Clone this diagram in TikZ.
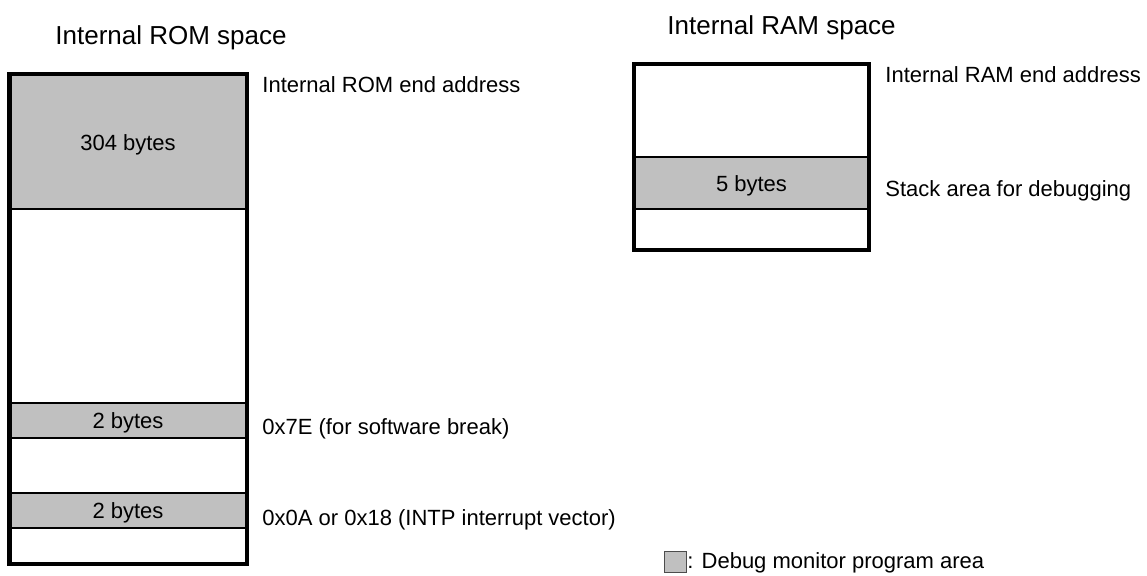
\documentclass[tikz,border=0pt]{standalone}
\usepackage{fontspec}
\setmainfont{Liberation Sans}
\usetikzlibrary{positioning}
\definecolor{MonGrey}{RGB}{192,192,192}

\begin{document}
\begin{tikzpicture}[x=0.5pt, y=-0.5pt, font=\fontsize{11}{13}\selectfont,
  every node/.style={inner sep=0pt},
  title/.style={anchor=base west, font=\fontsize{13}{15}\selectfont},
  note/.style={anchor=base west},
  size/.style={anchor=base},
  frame/.style={line width=2.2pt},
  split/.style={line width=0.6pt}]
  \useasboundingbox (0,0) rectangle (1147,576);

  % ROM side
  \node[title] (romtitle) at (55,45) {Internal ROM space};
  \fill[MonGrey] (9.5,74) rectangle (247,209);
  \fill[MonGrey] (9.5,403) rectangle (247,438);
  \fill[MonGrey] (9.5,493) rectangle (247,528);
  \foreach \y in {209,403,438,493,528}
    \draw[split] (9.5,\y) -- (247,\y);
  \draw[frame] (9.5,74) rectangle (247,564);
  \node[size] (rommon) at (128,151) {304 bytes};
  \node[size] (rombrk) at (128,429) {2 bytes};
  \node[size] (romvec) at (128,519) {2 bytes};
  \node[note] (romend) at (262,93) {Internal ROM end address};
  \node[note] (brknote) at (262,435) {0x7E (for software break)};
  \node[note] (vecnote) at (262,526) {0x0A or 0x18 (INTP interrupt vector)};

  % RAM side
  \node[title] (ramtitle) at (667,35) {Internal RAM space};
  \fill[MonGrey] (634,157) rectangle (869,209);
  \foreach \y in {157,209}
    \draw[split] (634,\y) -- (869,\y);
  \draw[frame] (634,64) rectangle (869,250);
  \node[size] (ramstack) at (751.5,192) {5 bytes};
  \node[note] (ramend) at (885,83) {Internal RAM end address};
  \node[note] (stacknote) at (885,197) {Stack area for debugging};

  % legend
  \filldraw[MonGrey, draw=black!70, line width=0.5pt] (664,552) rectangle (686,573);
  \node[note] (legend) at (687,569) {: Debug monitor program area};
\end{tikzpicture}
\end{document}
